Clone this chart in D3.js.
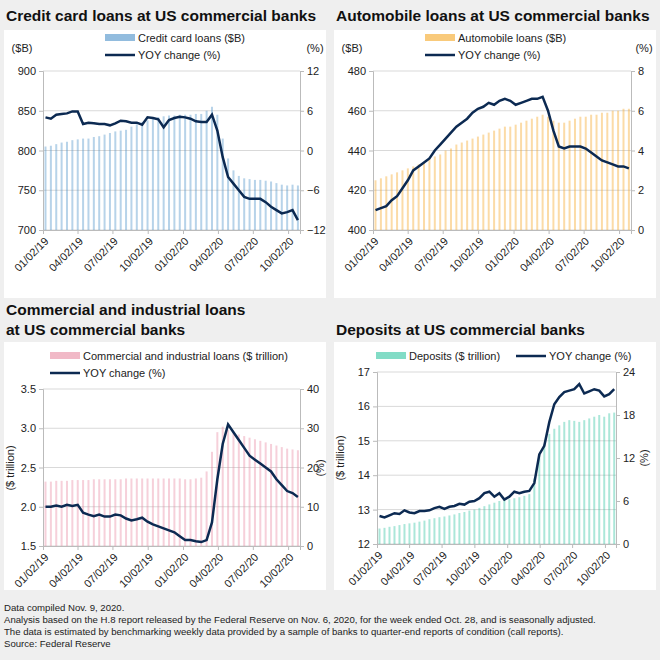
<!DOCTYPE html>
<html><head><meta charset="utf-8">
<script src="https://cdn.jsdelivr.net/npm/d3@7"></script>
<style>body{margin:0;background:#efefef;font-family:"Liberation Sans",Arial,sans-serif}</style>
</head><body><svg id="c" width="660" height="660"></svg>
<script>
// biweekly observations starting 01/02/19
var start = new Date(2019, 0, 2);
var dates = d3.range(48).map(function(i){ return d3.timeDay.offset(start, 14 * i); });
var tickDates = ["2019-01-02","2019-04-02","2019-07-02","2019-10-02","2020-01-02","2020-04-02","2020-07-02","2020-10-02"].map(d3.timeParse("%Y-%m-%d"));

var creditBars = [805,806,808,810,811,813,814,815,815,817,818,820,822,824,825,826,830,833,836,838,840,842,843,844,844,845,845,845,846,846,850,855,845,815,790,775,768,765,764,763,763,762,761,759,757,756,757,756];
var creditYoy = [5,4.8,5.4,5.5,5.6,5.9,5.9,4.0,4.2,4.1,4.0,4.0,3.8,4.1,4.5,4.4,4.2,4.2,3.9,5.0,4.9,4.7,3.5,4.6,4.9,5.1,5.0,4.8,4.4,4.3,4.3,5.4,3.0,-1,-4,-5,-6,-7,-7.3,-7.3,-7.3,-7.8,-8.5,-9,-9.5,-9.3,-9.0,-10.5];
var autoBars = [425,426,427,428,429,430,431,432,433,434,436,437,438,440,441,443,444,445,446,447,448,449,450,451,452,452,453,454,455,456,457,458,457,455,454,454,455,456,457,457,458,458,459,459,460,460,461,461];
var autoYoy = [1.0,1.1,1.2,1.5,1.7,2.1,2.5,3.0,3.2,3.4,3.6,4.0,4.3,4.6,4.9,5.2,5.4,5.6,5.9,6.1,6.2,6.4,6.3,6.5,6.6,6.5,6.3,6.4,6.5,6.6,6.6,6.7,6.0,5.0,4.2,4.1,4.2,4.2,4.2,4.1,3.9,3.7,3.5,3.4,3.3,3.2,3.2,3.1];
var ciBars = [2.32,2.32,2.33,2.33,2.33,2.34,2.34,2.34,2.34,2.35,2.35,2.35,2.35,2.35,2.35,2.36,2.36,2.36,2.36,2.36,2.36,2.36,2.36,2.36,2.36,2.36,2.35,2.35,2.36,2.37,2.45,2.7,2.95,3.02,2.98,2.95,2.92,2.9,2.88,2.86,2.84,2.82,2.8,2.78,2.76,2.74,2.73,2.72];
var ciYoy = [10,10,10.3,10,10.5,10.2,10.5,8.5,8,7.6,8,7.5,7.5,8,7.8,7,6.5,6.8,7.2,6.2,5.5,5,4.5,4,3.5,2.5,1.5,1.5,1.2,1.0,1.5,6,17,26,31,29,27,25,23,22,21,20,19,17,15.5,14,13.5,12.5];
var depBars = [12.45,12.47,12.5,12.52,12.55,12.58,12.6,12.62,12.65,12.68,12.72,12.75,12.78,12.8,12.83,12.86,12.9,12.93,12.97,13.0,13.05,13.1,13.15,13.2,13.25,13.3,13.3,13.33,13.36,13.4,13.45,13.9,14.6,14.9,15.2,15.35,15.45,15.55,15.6,15.58,15.55,15.6,15.65,15.7,15.75,15.7,15.8,15.82];
var depYoy = [3.9,3.7,4.0,4.3,4.2,4.7,4.4,4.3,4.6,4.6,4.7,5.0,5.2,4.9,5.2,5.3,5.6,5.5,5.9,6.0,6.4,7.1,7.3,6.6,7.1,6.2,6.6,7.3,7.1,7.3,7.4,8.5,12.5,13.7,17.0,19.5,20.5,21.2,21.4,21.6,22.3,21.0,21.3,21.6,21.4,20.6,20.9,21.6];

var svg = d3.select("#c");
var navy = "#0c2a52";

function panel(o) {
  svg.append("rect").attr("x", o.bx).attr("y", o.by).attr("width", 322).attr("height", o.bh).attr("fill", "#fff");
  o.title.forEach(function(t, i){
    svg.append("text").attr("x", o.bx + 2).attr("y", o.ty + i * 20).attr("font-size", 15.5).attr("font-weight", "bold").attr("fill", "#111").text(t);
  });
  var x = d3.scaleTime().domain([start, new Date(2020, 10, 2)]).range([o.x0, o.x1]);
  var yl = d3.scaleLinear().domain(o.ld).range([o.y1, o.y0]);
  var yr = d3.scaleLinear().domain(o.rd).range([o.y1, o.y0]);
  var g = svg.append("g").attr("font-size", 11);
  var lt = d3.range(o.ld[0], o.ld[1] + o.ls / 2, o.ls);
  g.selectAll(".grid").data(lt).join("line").attr("x1", o.x0).attr("x2", o.x1)
    .attr("y1", yl).attr("y2", yl).attr("stroke", "#d9d9d9");
  var bw = 2;
  g.selectAll(".bar").data(o.bars).join("rect")
    .attr("x", function(d, i){ return x(dates[i]) + 1.5; }).attr("width", bw)
    .attr("y", function(d){ return yl(d); }).attr("height", function(d){ return o.y1 - yl(d); })
    .attr("fill", o.color).attr("opacity", 0.4);
  g.append("path").datum(o.yoy).attr("fill", "none").attr("stroke", navy).attr("stroke-width", 2.5)
    .attr("d", d3.line().x(function(d, i){ return x(dates[i]) + 2.5; }).y(function(d){ return yr(d); }));
  var ax = g.append("g").attr("transform", "translate(0," + o.y1 + ")")
    .call(d3.axisBottom(x).tickValues(tickDates).tickFormat(d3.timeFormat("%m/%d/%y")).tickSize(4));
  ax.selectAll("text").attr("transform", "rotate(-45)").attr("text-anchor", "end").attr("dx", "-0.4em").attr("dy", "0.5em").attr("font-size", 11).attr("fill", "#222");
  var al = g.append("g").attr("transform", "translate(" + o.x0 + ",0)").call(d3.axisLeft(yl).tickValues(lt).tickSize(4).tickFormat(d3.format(o.lf)));
  var ar = g.append("g").attr("transform", "translate(" + o.x1 + ",0)").call(d3.axisRight(yr).tickValues(d3.range(o.rd[0], o.rd[1] + 0.01, o.rs)).tickSize(4));
  [ax, al, ar].forEach(function(a){
    a.selectAll("path,line").attr("stroke", "#bbb");
    a.selectAll("text").attr("font-size", 11).attr("fill", "#222");
    a.select(".domain").attr("stroke", "#bbb");
  });
  o.labels.forEach(function(l){
    var t = g.append("text").attr("font-size", 11).attr("fill", "#222").attr("text-anchor", "middle").text(l.t);
    if (l.r) t.attr("transform", "translate(" + l.x + "," + l.y + ") rotate(-90)");
    else t.attr("x", l.x).attr("y", l.y);
  });
  o.legend.forEach(function(l){
    if (l.bar) g.append("rect").attr("x", l.x).attr("y", l.y - 4).attr("width", 30).attr("height", 7).attr("fill", o.color).attr("opacity", 0.6);
    else g.append("line").attr("x1", l.x).attr("x2", l.x + 30).attr("y1", l.y).attr("y2", l.y).attr("stroke", navy).attr("stroke-width", 2.5);
    g.append("text").attr("x", l.x + 33).attr("y", l.y + 4).attr("font-size", 11).attr("fill", "#222").text(l.t);
  });
}

panel({bx: 4, by: 30, bh: 268, ty: 21, title: ["Credit card loans at US commercial banks"],
  x0: 43, x1: 300, y0: 71, y1: 230, ld: [700, 900], ls: 50, lf: "d", rd: [-12, 12], rs: 6,
  bars: creditBars, yoy: creditYoy, color: "#4a90c8",
  labels: [{t: "($B)", x: 22, y: 52}, {t: "(%)", x: 315, y: 52}],
  legend: [{bar: true, x: 105, y: 38, t: "Credit card loans ($B)"}, {x: 105, y: 55, t: "YOY change (%)"}]});
panel({bx: 334, by: 30, bh: 268, ty: 21, title: ["Automobile loans at US commercial banks"],
  x0: 373, x1: 631, y0: 71, y1: 230, ld: [400, 480], ls: 20, lf: "d", rd: [0, 8], rs: 2,
  bars: autoBars, yoy: autoYoy, color: "#f5a623",
  labels: [{t: "($B)", x: 352, y: 52}, {t: "(%)", x: 644, y: 52}],
  legend: [{bar: true, x: 425, y: 38, t: "Automobile loans ($B)"}, {x: 425, y: 55, t: "YOY change (%)"}]});
panel({bx: 4, by: 342, bh: 248, ty: 315, title: ["Commercial and industrial loans", "at US commercial banks"],
  x0: 43, x1: 300, y0: 389, y1: 546, ld: [1.5, 3.5], ls: 0.5, lf: ".1f", rd: [0, 40], rs: 10,
  bars: ciBars, yoy: ciYoy, color: "#e88aa2",
  labels: [{t: "($ trillion)", x: 14, y: 468, r: true}, {t: "(%)", x: 324, y: 468, r: true}],
  legend: [{bar: true, x: 50, y: 356, t: "Commercial and industrial loans ($ trillion)"}, {x: 50, y: 373, t: "YOY change (%)"}]});
panel({bx: 334, by: 342, bh: 248, ty: 335, title: ["Deposits at US commercial banks"],
  x0: 377, x1: 616, y0: 372, y1: 544, ld: [12, 17], ls: 1, lf: "d", rd: [0, 24], rs: 6,
  bars: depBars, yoy: depYoy, color: "#2ec4a0",
  labels: [{t: "($ trillion)", x: 344, y: 458, r: true}, {t: "(%)", x: 648, y: 458, r: true}],
  legend: [{bar: true, x: 376, y: 356, t: "Deposits ($ trillion)"}, {x: 516, y: 356, t: "YOY change (%)"}]});

var notes = ["Data compiled Nov. 9, 2020.",
  "Analysis based on the H.8 report released by the Federal Reserve on Nov. 6, 2020, for the week ended Oct. 28, and is seasonally adjusted.",
  "The data is estimated by benchmarking weekly data provided by a sample of banks to quarter-end reports of condition (call reports).",
  "Source: Federal Reserve"];
svg.selectAll(".note").data(notes).join("text").attr("x", 4).attr("y", function(d, i){ return 611 + i * 12; })
  .attr("font-size", 9.6).attr("fill", "#222").text(function(d){ return d; });
</script></body></html>
